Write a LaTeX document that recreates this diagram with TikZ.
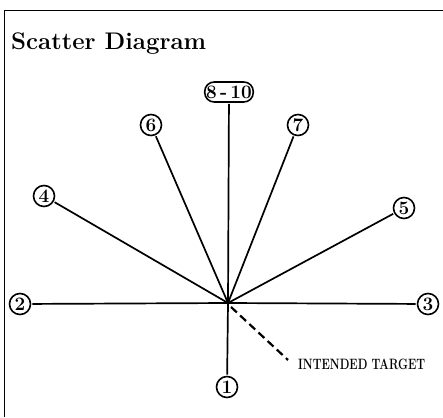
\documentclass[tikz,border=0pt]{standalone}
\usepackage{fontspec}
\usetikzlibrary{calc}
\begin{document}
\begin{tikzpicture}[x=1pt,y=-1pt,
  num/.style={draw,circle,line width=1.6pt,inner sep=0pt,minimum size=21pt,font=\fontsize{19}{19}\selectfont\bfseries},
  numbox/.style={draw,rounded corners=9.5pt,line width=1.6pt,inner sep=1.5pt,minimum height=20pt,minimum width=47pt,font=\fontsize{19}{19}\selectfont\bfseries},
  ray/.style={line width=1.7pt,shorten <=1pt},
  frame/.style={line width=0.9pt}]
\useasboundingbox (0,0) rectangle (443,417);
\coordinate (tl) at (4,10);
\coordinate (tr) at (443,10);
\coordinate (bl) at (4,417);
\draw[frame] (tr) -- (tl) -- (bl);
\node[anchor=base west,font=\fontsize{24}{24}\selectfont\bfseries,inner sep=0pt] (title) at (11,50) {Scatter Diagram};
\coordinate (c) at (228,303);
\node[numbox] (n810) at (229,92) {8\,-\,10};
\node[num] (n6) at (151,125) {6};
\node[num] (n7) at (298,125) {7};
\node[num] (n4) at (44,196) {4};
\node[num] (n5) at (404,208) {5};
\node[num] (n2) at (20,304) {2};
\node[num] (n3) at (428,304) {3};
\node[num] (n1) at (227,387) {1};
\draw[ray] (n810) -- (c);
\draw[ray] (n6) -- (c);
\draw[ray] (n7) -- (c);
\draw[ray] (n4) -- (c);
\draw[ray] (n5) -- (c);
\draw[ray] (n2) -- (c);
\draw[ray] (n3) -- (c);
\draw[ray] (n1) -- (c);
\coordinate (dstart) at (231,307);
\coordinate (dend) at (288,360);
\draw[line width=2.2pt,dash pattern=on 8pt off 4.5pt] (dstart) -- (dend);
\node[anchor=west,inner sep=0pt,xscale=0.75,font=\fontsize{15}{15}\selectfont\bfseries] (tgt) at (298,364) {INTENDED TARGET};
\end{tikzpicture}
\end{document}
